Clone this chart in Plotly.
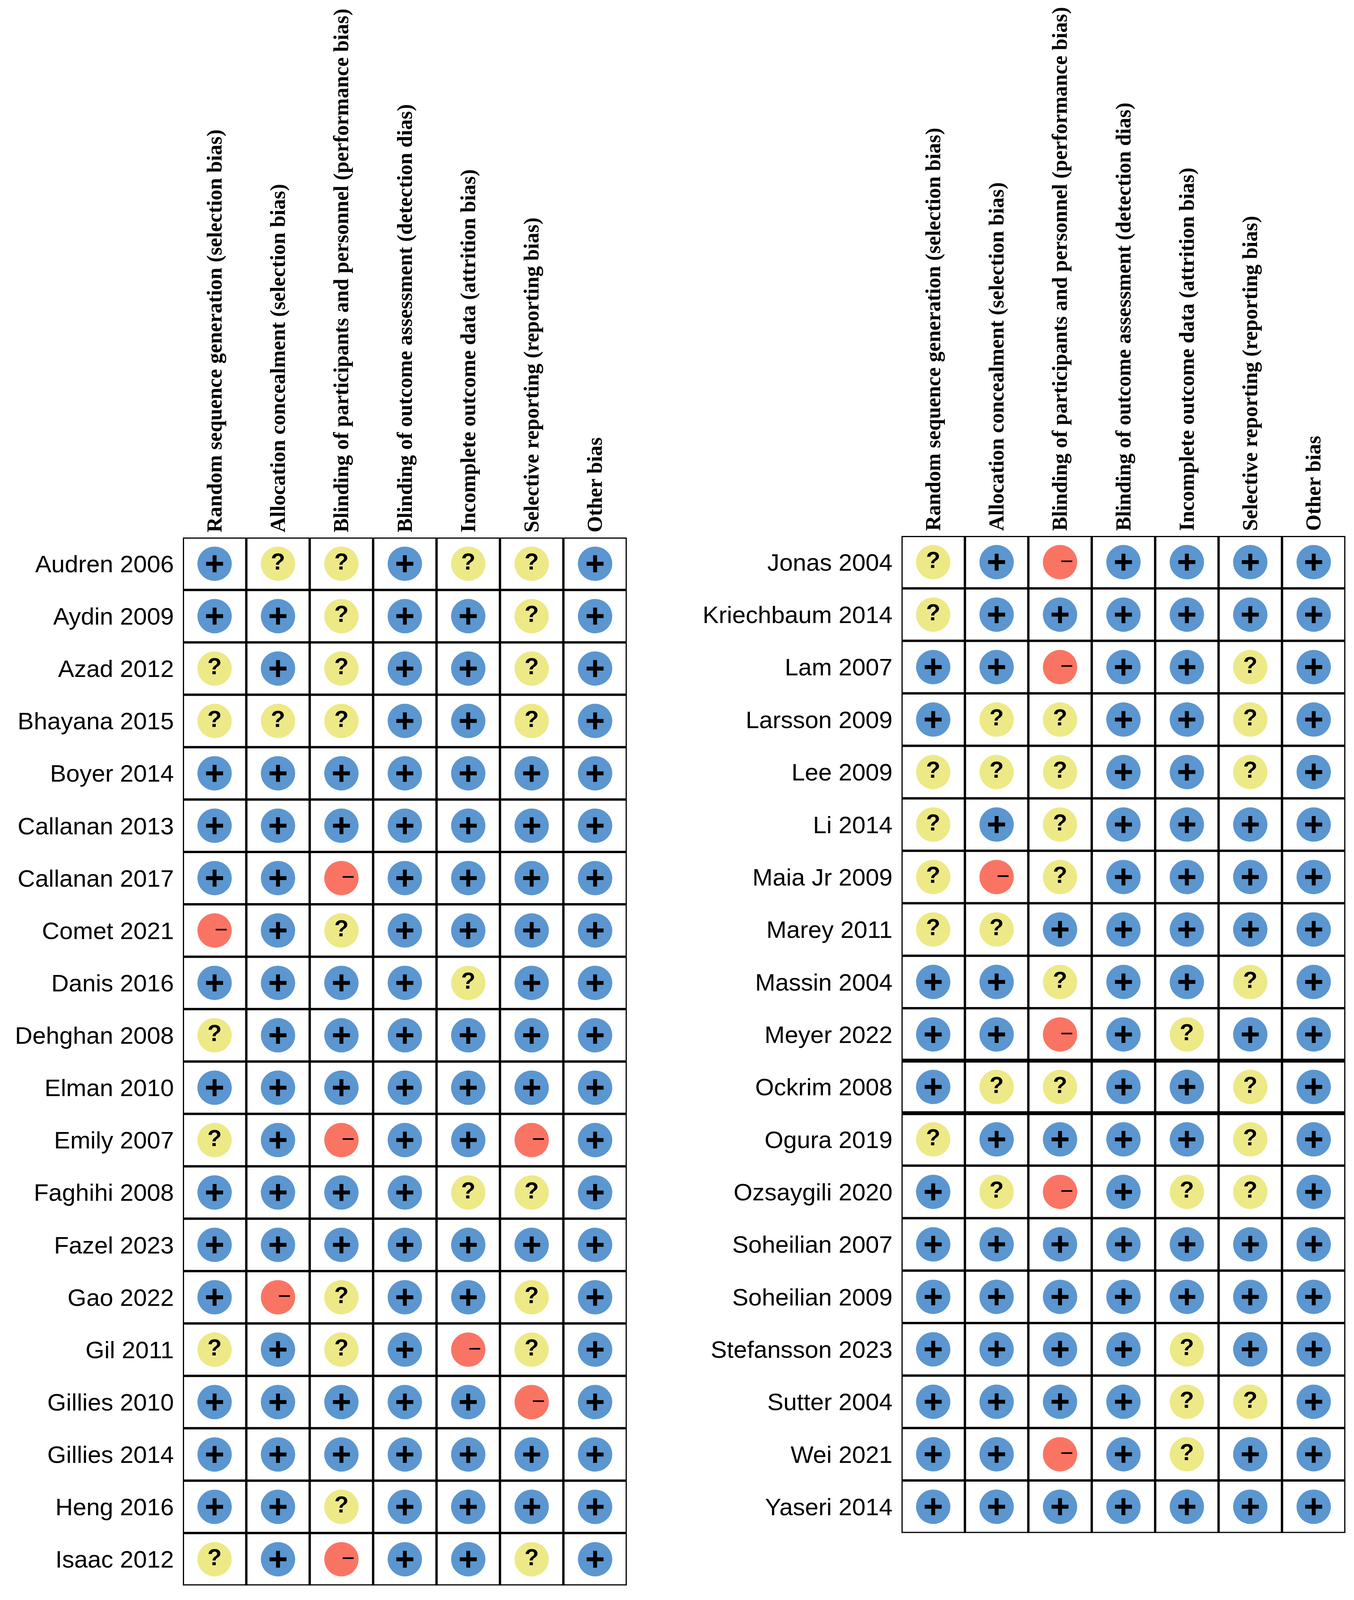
import plotly.graph_objects as go

# risk of bias domains (column headers)
domains = [
    "Random sequence generation (selection bias)",
    "Allocation concealment (selection bias)",
    "Blinding of participants and personnel (performance bias)",
    "Blinding of outcome assessment (detection dias)",
    "Incomplete outcome data (attrition bias)",
    "Selective reporting (reporting bias)",
    "Other bias",
]

left_studies = [
    "Audren 2006", "Aydin 2009", "Azad 2012", "Bhayana 2015", "Boyer 2014",
    "Callanan 2013", "Callanan 2017", "Comet 2021", "Danis 2016", "Dehghan 2008",
    "Elman 2010", "Emily 2007", "Faghihi 2008", "Fazel 2023", "Gao 2022",
    "Gil 2011", "Gillies 2010", "Gillies 2014", "Heng 2016", "Isaac 2012",
]
# one string per study, one character per domain: + low, ? unclear, - high
left_scores = [
    "+??+??+", "++?++?+", "?+?++?+", "???++?+", "+++++++",
    "+++++++", "++-++++", "-+?++++", "++++?++", "?++++++",
    "+++++++", "?+-++-+", "++++??+", "+++++++", "+-?++?+",
    "?+?+-?+", "+++++-+", "+++++++", "++?++++", "?+-++?+",
]

right_studies = [
    "Jonas 2004", "Kriechbaum 2014", "Lam 2007", "Larsson 2009", "Lee 2009",
    "Li 2014", "Maia Jr 2009", "Marey 2011", "Massin 2004", "Meyer 2022",
    "Ockrim 2008", "Ogura 2019", "Ozsaygili 2020", "Soheilian 2007", "Soheilian 2009",
    "Stefansson 2023", "Sutter 2004", "Wei 2021", "Yaseri 2014",
]
right_scores = [
    "?+-++++", "?++++++", "++-++?+", "+??++?+", "???++?+",
    "?+?++++", "?-?++++", "??+++++", "++?++?+", "++-+?++",
    "+??++?+", "?++++?+", "+?-+??+", "+++++++", "+++++++",
    "++++?++", "++++??+", "++-+?++", "+++++++",
]
# rows framed with heavier lines in the right panel
highlight_rows = ["Ockrim 2008"]

colors = {"+": "#5B96D0", "?": "#EDE986", "-": "#FA7464"}

# the photographed page only shows about 4090 px of height, so the layout
# of the 3465x4860 original is squeezed vertically to fit
REF_W, REF_H = 3465, 4860
PAGE_MARGIN = 8
SY = 4078 / REF_H
W = REF_W - PAGE_MARGIN
H = 4070


def fx(x):
    return (x - PAGE_MARGIN) / W


def fy(y):
    return 1 - (y * SY - PAGE_MARGIN) / H


# plot boxes in reference pixels: (left, right, top, bottom)
panels = [
    (left_studies, left_scores, (468, 1604, 1640, 4837)),
    (right_studies, right_scores, (2307, 3443, 1635, 4677)),
]

fig = go.Figure()
annotations = []
shapes = []

for p, (studies, scores, box) in enumerate(panels):
    xa = "x" if p == 0 else "x2"
    ya = "y" if p == 0 else "y2"
    n = len(studies)

    for code in ["+", "?", "-"]:
        xs, ys = [], []
        for i, s in enumerate(scores):
            for j, c in enumerate(s):
                if c == code:
                    xs.append(j)
                    ys.append(i)
        fig.add_trace(go.Scatter(
            x=xs, y=ys, mode="markers", xaxis=xa, yaxis=ya,
            marker=dict(size=88, color=colors[code], line=dict(width=0)),
            hoverinfo="skip"))
        if code == "+":
            fig.add_trace(go.Scatter(
                x=xs, y=ys, mode="markers", xaxis=xa, yaxis=ya,
                marker=dict(symbol="cross-thin", size=31,
                            line=dict(width=10, color="black")),
                hoverinfo="skip"))
        elif code == "?":
            fig.add_trace(go.Scatter(
                x=xs, y=ys, mode="text", xaxis=xa, yaxis=ya, text=["<b>?</b>"] * len(xs),
                textposition="middle center",
                textfont=dict(family="Liberation Sans", size=60, color="black"),
                hoverinfo="skip"))
        else:
            for x, y in zip(xs, ys):
                annotations.append(dict(
                    x=x, y=y, xref=xa, yref=ya, text="\u2212", showarrow=False,
                    xshift=17, yshift=4,
                    font=dict(family="Liberation Sans", size=58, color="black")))

    # grid lines
    for j in range(len(domains) + 1):
        shapes.append(dict(type="line", xref=xa, yref=ya, x0=j - 0.5, x1=j - 0.5,
                           y0=-0.5, y1=n - 0.5, line=dict(color="black", width=6)))
    thick = set()
    for name in highlight_rows:
        if name in studies:
            k = studies.index(name)
            thick.update([k - 0.5, k + 0.5])
    for i in range(n + 1):
        yv = i - 0.5
        shapes.append(dict(type="line", xref=xa, yref=ya, x0=-0.5, x1=len(domains) - 0.5,
                           y0=yv, y1=yv,
                           line=dict(color="black", width=10 if yv in thick else 6)))

    l, r, t, b = box
    xaxis = dict(domain=[fx(l), fx(r)], range=[-0.5, len(domains) - 0.5], side="top",
                 tickvals=list(range(len(domains))),
                 ticktext=["<b>" + d + "</b>" for d in domains],
                 tickangle=-90, ticks="", ticklabelstandoff=12,
                 tickfont=dict(family="Liberation Serif", size=54, color="black"),
                 showgrid=False, zeroline=False, showline=False,
                 anchor=ya, fixedrange=True)
    yaxis = dict(domain=[fy(b), fy(t)], range=[n - 0.5, -0.5],
                 tickvals=list(range(n)), ticktext=studies, ticks="",
                 ticklabelstandoff=22,
                 tickfont=dict(family="Liberation Sans", size=62, color="black"),
                 showgrid=False, zeroline=False, showline=False,
                 anchor=xa, fixedrange=True)
    if p == 0:
        fig.update_layout(xaxis=xaxis, yaxis=yaxis)
    else:
        fig.update_layout(xaxis2=xaxis, yaxis2=yaxis)

fig.update_layout(
    width=W, height=H,
    margin=dict(l=0, r=0, t=0, b=0),
    paper_bgcolor="white", plot_bgcolor="white",
    showlegend=False,
    shapes=shapes,
    annotations=annotations,
)

fig.write_html("out.html")
